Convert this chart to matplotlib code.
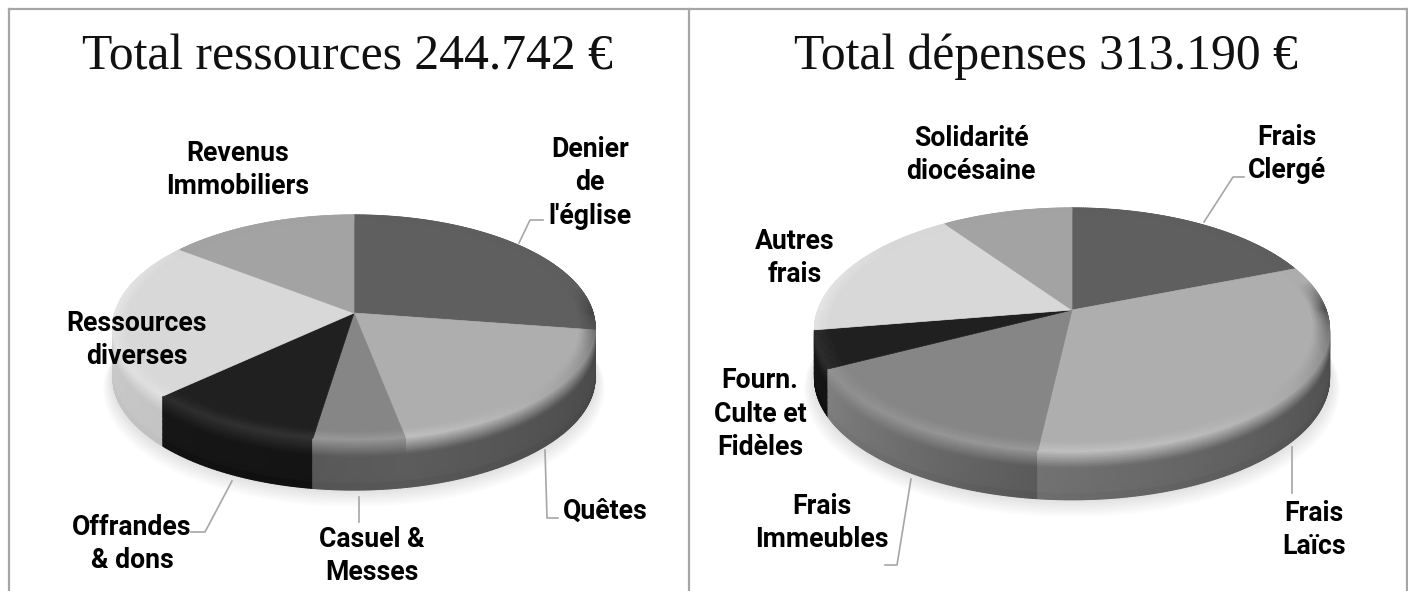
import numpy as np
import matplotlib
matplotlib.use("Agg")
import matplotlib.pyplot as plt
from matplotlib.collections import PolyCollection
from matplotlib.patches import Polygon

# =========================
# DATA
# =========================
titles = ["Total ressources 244.742 €", "Total dépenses 313.190 €"]

# share of each slice in %, clockwise from the top
res_values = [27.4, 19.6, 5.4, 10.6, 22.6, 14.4]
dep_values = [19.0, 32.8, 15.6, 5.0, 18.0, 9.6]

res_labels = ["Denier\nde\nl'église", "Quêtes", "Casuel &\nMesses", "Offrandes\n& dons",
              "Ressources\ndiverses", "Revenus\nImmobiliers"]
dep_labels = ["Frais\nClergé", "Frais\nLaïcs", "Frais\nImmeubles", "Fourn.\nCulte et\nFidèles",
              "Autres\nfrais", "Solidarité\ndiocésaine"]

# =========================
# STYLE
# =========================
W, H = 1408, 591
LINE = "#a6a6a6"

top_greys = [0x5f, 0xae, 0x86, 0x20, 0xd8, 0xa3]
res_side = [(0x44, 0x44), (0x48, 0x5c), (0x5c, 0x58), (0x14, 0x16), (0xc4, 0xd0), (0x90, 0x90)]
dep_side = [(0x44, 0x44), (0x3e, 0x72), (0x5a, 0x80), (0x14, 0x16), (0xc4, 0xd0), (0x90, 0x90)]

res_geo = dict(cx=354, cy=313, R=239, Rs=110.6, k=0.129, depth=50)
dep_geo = dict(cx=1072, cy=310, R=254, Rs=118.6, k=0.163, depth=48)

res_label_pos = [(590, 183), (605, 511), (372, 556), (132, 544), (137, 340), (238, 170)]
dep_label_pos = [(1287, 154), (1314, 530), (822, 523), (760, 414), (795, 258), (971, 155)]

res_leaders = [[(519, 243), (530, 220), (543, 220)],
               [(545, 450), (547, 518), (558, 518)],
               [(359, 497), (359, 522)],
               [(232, 481), (205, 532), (191, 532)]]
dep_leaders = [[(1204, 222), (1233, 177), (1244, 177)],
               [(1292, 447), (1292, 493)],
               [(911, 479), (897, 565), (885, 565)]]

BEVEL = 0.35


def project(geo, theta, r, z):
    # theta clockwise from the back of the pie, simple perspective on the disc
    u = r * np.sin(theta)
    v = -r * np.cos(theta)
    d = 1 - geo["k"] * v
    return geo["cx"] + geo["R"] * u / d, geo["cy"] + geo["Rs"] * v / d + geo["depth"] * z


def grey(g):
    g = np.clip(g / 255.0, 0, 1)
    return (g, g, g)


def rim_target(theta, top, s):
    # colour at the edge of the rounded rim, light comes from front left
    u = np.sin(theta)
    v = -np.cos(theta)
    f = max(0.0, v, -0.7 * u + min(v, 0.0))
    if v >= 0:
        return s + (top + 18 - s) * f ** 0.6
    if u < 0:
        return top + 18 * f ** 0.6
    return s + (top - s) * min(1, -v * 4)


def draw_pie(ax, geo, values, side_cols):
    edges = np.radians(np.concatenate([[0], np.cumsum(values) / np.sum(values) * 360]))

    # soft shadow under the pie
    t = np.linspace(0, 2 * np.pi, 240)
    for i in range(10):
        x, y = project(geo, t, 1.04 - i * 0.004, 1.22 - i * 0.022)
        ax.add_patch(Polygon(np.c_[x, y], closed=True, fc="k", ec="none", alpha=0.012, zorder=1))

    quads = []
    zs = np.concatenate([np.linspace(0, BEVEL, 9), np.linspace(BEVEL + 0.05, 1, 6)])
    rs = np.linspace(0.94, 1.0, 7)

    for i in range(len(values)):
        n = max(4, int(np.degrees(edges[i + 1] - edges[i]) * 2))
        th = np.linspace(edges[i], edges[i + 1], n + 1)
        top = float(top_greys[i])
        a, b = side_cols[i]

        # side wall
        for j in range(n):
            s = a + (b - a) * (j + 0.5) / n
            th0, th1 = th[j], th[j + 1]
            target = rim_target((th0 + th1) / 2, top, s)
            for m in range(len(zs) - 1):
                z0, z1 = zs[m], zs[m + 1]
                zm = (z0 + z1) / 2
                if zm < BEVEL:
                    g = target + (s - target) * (zm / BEVEL)
                else:
                    g = s - 6 * max(0, (zm - 0.8) / 0.2)
                x0, y0 = project(geo, th0, 1, z0)
                x1, y1 = project(geo, th1, 1, z0)
                x2, y2 = project(geo, th1, 1, z1)
                x3, y3 = project(geo, th0, 1, z1)
                quads.append((-np.cos((th0 + th1) / 2), [(x0, y0), (x1, y1), (x2, y2), (x3, y3)], grey(g)))

    # back of the wall first, or it paints over the front
    quads.sort(key=lambda q: q[0])
    polys = [q[1] for q in quads]
    cols = [q[2] for q in quads]
    ax.add_collection(PolyCollection(polys, facecolors=cols, edgecolors=cols, linewidths=0.9, zorder=2))

    polys, cols = [], []
    for i in range(len(values)):
        n = max(4, int(np.degrees(edges[i + 1] - edges[i]) * 2))
        th = np.linspace(edges[i], edges[i + 1], n + 1)
        top = float(top_greys[i])
        a, b = side_cols[i]

        # flat part of the top
        x, y = project(geo, th, rs[0], 0)
        pts = np.vstack([[geo["cx"], geo["cy"]], np.c_[x, y]])
        polys.append(pts)
        cols.append(grey(top))

        # rounded rim
        for j in range(n):
            s = a + (b - a) * (j + 0.5) / n
            th0, th1 = th[j], th[j + 1]
            target = rim_target((th0 + th1) / 2, top, s)
            for m in range(len(rs) - 1):
                r0, r1 = rs[m], rs[m + 1]
                g = top + (target - top) * ((m + 0.5) / (len(rs) - 1))
                x0, y0 = project(geo, th0, r0, 0)
                x1, y1 = project(geo, th1, r0, 0)
                x2, y2 = project(geo, th1, r1, 0)
                x3, y3 = project(geo, th0, r1, 0)
                polys.append([(x0, y0), (x1, y1), (x2, y2), (x3, y3)])
                cols.append(grey(g))
    ax.add_collection(PolyCollection(polys, facecolors=cols, edgecolors=cols, linewidths=0.5, zorder=3))


# =========================
# PLOT
# =========================
fig = plt.figure(figsize=(W / 100, H / 100), dpi=100)
ax = fig.add_axes([0, 0, 1, 1])
ax.set_xlim(0, W)
ax.set_ylim(H, 0)
ax.axis("off")

# frame of the two panels
ax.plot([8.5, 1406.5], [9, 9], color=LINE, lw=1.6, zorder=0)
for xpos in [8.5, 689, 1406.5]:
    ax.plot([xpos, xpos], [9, H], color=LINE, lw=1.6, zorder=0)

draw_pie(ax, res_geo, res_values, res_side)
draw_pie(ax, dep_geo, dep_values, dep_side)

ax.text(347, 57, titles[0], ha="center", va="center", fontsize=35.7, family="Liberation Serif", color="#111111")
ax.text(1046, 57, titles[1], ha="center", va="center", fontsize=35.7, family="Liberation Serif", color="#111111")

for labels, positions in [(res_labels, res_label_pos), (dep_labels, dep_label_pos)]:
    for lab, (x, y) in zip(labels, positions):
        ax.text(x, y, lab, ha="center", va="center", fontsize=19.2, fontweight="bold",
                family="Roboto", color="black", linespacing=1.32, zorder=6)

for leader in res_leaders + dep_leaders:
    xs, ys = zip(*leader)
    ax.plot(xs, ys, color=LINE, lw=1.2, zorder=5)

fig.savefig("out.png", dpi=100)
